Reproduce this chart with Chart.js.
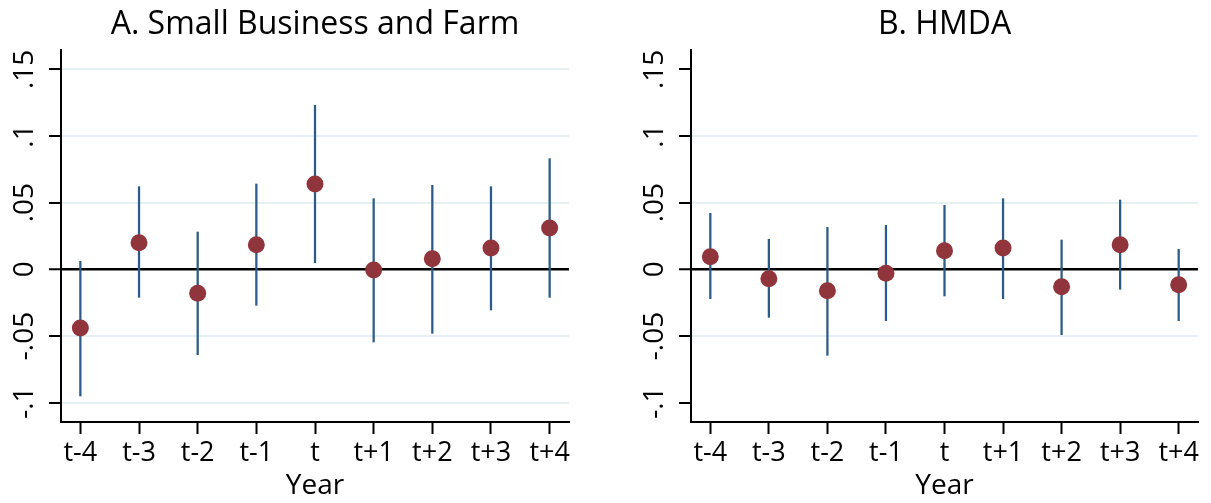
<!DOCTYPE html>
<html>
<head>
<meta charset="utf-8">
<script src="https://cdn.jsdelivr.net/npm/chart.js@4.4.1/dist/chart.umd.min.js"></script>
<style>
  body { margin: 0; background: #fff; }
  #wrap { position: relative; width: 1211px; height: 503px; }
  canvas { position: absolute; top: 0; }
</style>
</head>
<body>
<div id="wrap">
  <canvas id="sbChart" width="600" height="503" style="left:0"></canvas>
  <canvas id="hmdaChart" width="581" height="503" style="left:630px"></canvas>
</div>
<script>
// years relative to event
const xVals = [-4, -3, -2, -1, 0, 1, 2, 3, 4];
const xLabels = ['t-4', 't-3', 't-2', 't-1', 't', 't+1', 't+2', 't+3', 't+4'];
const yTicks = [-0.1, -0.05, 0, 0.05, 0.1, 0.15];
const yTickLabels = ['-.1', '-.05', '0', '.05', '.1', '.15'];

// A. Small Business and Farm
const sbCoef = [-0.044, 0.020, -0.018, 0.0185, 0.064, -0.0005, 0.008, 0.016, 0.031];
const sbLo   = [-0.095, -0.021, -0.064, -0.027, 0.005, -0.0545, -0.048, -0.0305, -0.021];
const sbHi   = [0.006, 0.062, 0.028, 0.064, 0.123, 0.053, 0.063, 0.062, 0.083];
const sbGrid = [-0.1, -0.05, 0.05, 0.1, 0.15];

// B. HMDA
const hmdaCoef = [0.0095, -0.007, -0.016, -0.003, 0.014, 0.016, -0.013, 0.0185, -0.0115];
const hmdaLo   = [-0.022, -0.036, -0.0645, -0.0385, -0.020, -0.022, -0.049, -0.015, -0.0385];
const hmdaHi   = [0.042, 0.0225, 0.0315, 0.033, 0.048, 0.053, 0.022, 0.052, 0.015];
const hmdaGrid = [-0.05, 0.05, 0.1];

const FONT = '"Open Sans", "DejaVu Sans", sans-serif';

// y tick labels are rotated like stata does it
const rotatedYLabels = {
  id: 'rotatedYLabels',
  afterDraw(chart) {
    const y = chart.scales.y, ctx = chart.ctx;
    ctx.save();
    ctx.font = '28px ' + FONT;
    ctx.fillStyle = '#000';
    ctx.textAlign = 'center';
    ctx.textBaseline = 'alphabetic';
    yTicks.forEach((v, i) => {
      ctx.save();
      ctx.translate(chart.chartArea.left - 28, y.getPixelForValue(v));
      ctx.rotate(-Math.PI / 2);
      ctx.fillText(yTickLabels[i], 0, 0);
      ctx.restore();
    });
    ctx.restore();
  }
};

function makeChart(id, title, coef, lo, hi, gridVals, padRight) {
  const ctx = document.getElementById(id).getContext('2d');
  return new Chart(ctx, {
    type: 'scatter',
    data: {
      datasets: [
        {
          data: xVals.map((x, i) => ({ x: x, y: coef[i] })),
          backgroundColor: '#90353b',
          borderWidth: 0,
          pointRadius: 8.5,
          order: 1
        },
        {
          type: 'bar',
          data: xVals.map((x, i) => ({ x: x, y: [lo[i], hi[i]] })),
          backgroundColor: '#2b5b86',
          barThickness: 1.6,
          order: 2
        }
      ]
    },
    options: {
      responsive: false,
      animation: false,
      layout: { padding: { left: 0, right: padRight, top: 0, bottom: 0 } },
      plugins: {
        legend: { display: false },
        tooltip: { enabled: false },
        title: {
          display: true,
          text: title,
          fullSize: false,
          color: '#000',
          font: { family: FONT, size: 32, weight: 'normal' },
          padding: { top: 6, bottom: 5.6 }
        }
      },
      scales: {
        x: {
          type: 'linear',
          min: -4.33,
          max: 4.33,
          offset: false,
          afterBuildTicks: (s) => { s.ticks = xVals.map(v => ({ value: v })); },
          afterFit: (s) => { s.height = 81; },
          grid: { offset: false, drawOnChartArea: false, drawTicks: true, tickLength: 12, tickColor: '#000', tickWidth: 2 },
          border: { display: true, color: '#000', width: 2 },
          ticks: {
            autoSkip: false,
            maxRotation: 0,
            padding: 3,
            color: '#000',
            font: { family: FONT, size: 27 },
            callback: (v) => xLabels[xVals.indexOf(v)]
          },
          title: {
            display: true,
            text: 'Year',
            color: '#000',
            font: { family: FONT, size: 28 },
            padding: { top: 0, bottom: 0 }
          }
        },
        y: {
          type: 'linear',
          min: -0.1145,
          max: 0.1645,
          afterBuildTicks: (s) => { s.ticks = yTicks.map(v => ({ value: v })); },
          afterFit: (s) => { s.width = 61; },
          grid: {
            color: (c) => c.tick.value === 0 ? '#000' : (gridVals.includes(c.tick.value) ? '#e6eff1' : 'rgba(0,0,0,0)'),
            lineWidth: (c) => c.tick.value === 0 ? 2.5 : 2,
            tickLength: 12,
            tickColor: '#000',
            tickWidth: 2
          },
          border: { display: true, color: '#000', width: 2 },
          ticks: { display: false }
        }
      }
    },
    plugins: [rotatedYLabels]
  });
}

makeChart('sbChart', 'A. Small Business and Farm', sbCoef, sbLo, sbHi, sbGrid, 31);
makeChart('hmdaChart', 'B. HMDA', hmdaCoef, hmdaLo, hmdaHi, hmdaGrid, 13);
</script>
</body>
</html>
